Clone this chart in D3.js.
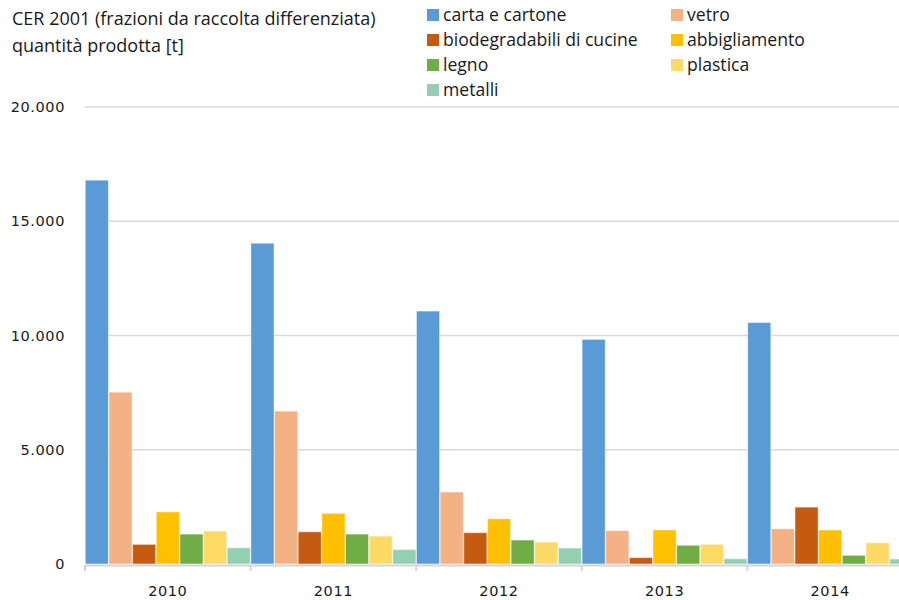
<!DOCTYPE html>
<html><head><meta charset="utf-8">
<script src="https://cdn.jsdelivr.net/npm/d3@7"></script>
<style>
html,body{margin:0;padding:0;background:#fff;}
svg{display:block;}
</style></head>
<body>
<svg id="chart" width="899" height="600"></svg>
<script>
const years = ["2010","2011","2012","2013","2014"];
const seriesNames = ["carta e cartone","vetro","biodegradabili di cucine","abbigliamento","legno","plastica","metalli"];
const seriesColors = ["#5B9BD5","#F4B183","#C55A11","#FFC000","#70AD47","#FFD966","#92D0B1"];
const cartaCartone = [16800,14040,11070,9830,10570];
const vetro = [7520,6690,3150,1460,1540];
const biodegradabili = [860,1410,1370,280,2490];
const abbigliamento = [2280,2220,1980,1490,1490];
const legno = [1310,1310,1050,820,380];
const plastica = [1440,1220,960,860,930];
const metalli = [710,630,700,230,220];
const yTicks = [0,5000,10000,15000,20000];
const titleLines = ["CER 2001 (frazioni da raccolta differenziata)","quantità prodotta [t]"];

const seriesValues = [cartaCartone,vetro,biodegradabili,abbigliamento,legno,plastica,metalli];

const svg = d3.select("#chart");
const locale = d3.formatLocale({decimal:",",thousands:".",grouping:[3],currency:["€",""]});
const fmt = locale.format(",.0f");

const x0 = d3.scaleBand().domain(years).range([85,913]).paddingInner(0).paddingOuter(0);
const x1 = d3.scaleBand().domain(d3.range(seriesNames.length)).range([0,x0.bandwidth()]).padding(0);
const y = d3.scaleLinear().domain([0,20000]).range([564,107]);

// gridlines
svg.append("g").selectAll("line").data(yTicks.filter(d=>d>0)).join("line")
  .attr("x1",85).attr("x2",913)
  .attr("y1",d=>y(d)).attr("y2",d=>y(d))
  .attr("stroke","#d9d9d9").attr("stroke-width",1.5);

// y labels
const yAxis = d3.axisLeft(y).tickValues(yTicks).tickFormat(d=>fmt(d)).tickSize(0).tickPadding(0);
const ya = svg.append("g").attr("transform","translate(65,0)").call(yAxis);
ya.select(".domain").remove();
ya.selectAll("text").attr("font-family","DejaVu Sans, Verdana, sans-serif").attr("font-size",14.5).attr("fill","#1a1a1a").attr("letter-spacing",0.6);

// bars
const g = svg.append("g");
years.forEach((yr,i)=>{
  seriesValues.forEach((vals,s)=>{
    g.append("rect")
      .attr("x",x0(yr)+x1(s)+0.25)
      .attr("y",y(vals[i]))
      .attr("width",x1.bandwidth()-0.5)
      .attr("height",y(0)-y(vals[i]))
      .attr("fill",seriesColors[s])
      .attr("stroke","rgba(255,255,255,0.5)")
      .attr("stroke-width",1);
  });
});

// x axis
const xAxis = d3.axisBottom(x0).tickSize(0).tickPadding(21);
const xa = svg.append("g").attr("transform","translate(0,565)").call(xAxis);
xa.select(".domain").attr("stroke","#d4d4d4").attr("stroke-width",2);
xa.selectAll("text").attr("font-family","DejaVu Sans, Verdana, sans-serif").attr("font-size",14.5).attr("fill","#1a1a1a").attr("letter-spacing",0.6);
svg.append("g").selectAll("line").data(years.concat(["end"])).join("line")
  .attr("x1",d=>d==="end"?913:x0(d)).attr("x2",d=>d==="end"?913:x0(d))
  .attr("y1",565).attr("y2",571)
  .attr("stroke","#d4d4d4").attr("stroke-width",2);

// title
svg.append("g").selectAll("text").data(titleLines).join("text")
  .attr("x",12).attr("y",(d,i)=>25+i*27)
  .attr("font-family","Open Sans, sans-serif").attr("font-size",18).attr("fill","#1a1a1a")
  .text(d=>d);

// legend
const leg = svg.append("g");
seriesNames.forEach((n,i)=>{
  const col = i%2, row = Math.floor(i/2);
  const lx = col===0?427:671, ly = 15+row*25;
  leg.append("rect").attr("x",lx).attr("y",ly-6).attr("width",12).attr("height",12).attr("fill",seriesColors[i]);
  leg.append("text").attr("x",lx+16).attr("y",ly).attr("dy","0.35em")
    .attr("font-family","Open Sans, sans-serif").attr("font-size",17.6).attr("fill","#1a1a1a").text(n);
});
</script>
</body></html>
